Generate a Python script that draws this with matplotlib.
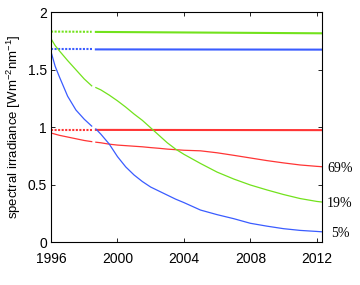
import numpy as np
import matplotlib
matplotlib.use("Agg")
import matplotlib.pyplot as plt

plt.rcParams['font.family'] = ['Liberation Sans', 'DejaVu Sans']
plt.rcParams['mathtext.default'] = 'regular'

# shared year grid for the decaying curves (nan = data gap in 1998)
years = [1996, 1996.25, 1996.5, 1997, 1997.5, 1998, 1998.45, np.nan, 1998.7, 1999,
         1999.5, 2000, 2000.5, 2001, 2001.5, 2002, 2002.5, 2003, 2003.5, 2004,
         2005, 2006, 2007, 2008, 2009, 2010, 2011, 2012, 2012.3]

blue_decay = [1.657, 1.53, 1.44, 1.27, 1.15, 1.07, 1.01, np.nan, 0.985, 0.94,
              0.855, 0.745, 0.655, 0.585, 0.528, 0.48, 0.445, 0.41, 0.375, 0.345,
              0.28, 0.24, 0.205, 0.165, 0.14, 0.118, 0.103, 0.094, 0.091]
green_decay = [1.77, 1.71, 1.665, 1.58, 1.50, 1.42, 1.36, np.nan, 1.345, 1.325,
               1.28, 1.23, 1.175, 1.115, 1.06, 0.995, 0.93, 0.865, 0.81, 0.765,
               0.685, 0.61, 0.55, 0.498, 0.455, 0.415, 0.38, 0.355, 0.35]
red_decay = [0.95, 0.94, 0.93, 0.915, 0.90, 0.885, 0.875, np.nan, 0.87, 0.865,
             0.853, 0.845, 0.84, 0.835, 0.83, 0.823, 0.817, 0.81, 0.805, 0.80,
             0.795, 0.778, 0.756, 0.733, 0.71, 0.69, 0.672, 0.66, 0.657]

# flat (corrected) series: dotted part, then solid part
flat_years_dot = [1996, 1998.45]
flat_years_solid = [1998.7, 2012.3]
green_flat_dot = [1.832, 1.830]
green_flat_solid = [1.829, 1.817]
blue_flat_dot = [1.677, 1.677]
blue_flat_solid = [1.677, 1.675]
red_flat_dot = [0.977, 0.977]
red_flat_solid = [0.977, 0.975]

labels = ['69%', '19%', '5%']
label_y = [0.645, 0.34, 0.072]
label_x = [2012.62, 2012.62, 2012.85]

green = '#72e21c'
blue = '#3a5cff'
red = '#ff3535'

fig = plt.figure(figsize=(3.6, 2.85), dpi=100)
ax = fig.add_axes([0.1417, 0.150, 0.752, 0.807])

for c, yd, ys in [(green, green_flat_dot, green_flat_solid),
                  (blue, blue_flat_dot, blue_flat_solid),
                  (red, red_flat_dot, red_flat_solid)]:
    ax.plot(flat_years_dot, yd, color=c, lw=1.5, linestyle=(0, (1, 0.7)))
    ax.plot(flat_years_solid, ys, color=c, lw=1.5)

ax.plot(years, red_decay, color=red, lw=0.9)
ax.plot(years, green_decay, color=green, lw=0.9)
ax.plot(years, blue_decay, color=blue, lw=0.9)

for t, x, y in zip(labels, label_x, label_y):
    ax.text(x, y, t, fontsize=10, family=['Liberation Serif'], va='center', ha='left',
            clip_on=False)

ax.set_xlim(1996, 2012.3)
ax.set_ylim(0, 2)
ax.set_xticks([1996, 2000, 2004, 2008, 2012])
ax.set_yticks([0, 0.5, 1, 1.5, 2])
ax.set_yticklabels(['0', '0.5', '1', '1.5', '2'])
ax.tick_params(direction='in', top=True, right=True, length=3, width=0.6,
               labelsize=10)
ax.tick_params(axis='x', pad=7)
ax.tick_params(axis='y', pad=3)
for s in ax.spines.values():
    s.set_linewidth(0.8)
ax.set_ylabel('spectral irradiance [Wm$^{-2}$nm$^{-1}$]', fontsize=9.5, labelpad=3)

fig.savefig('out.png', dpi=100)
